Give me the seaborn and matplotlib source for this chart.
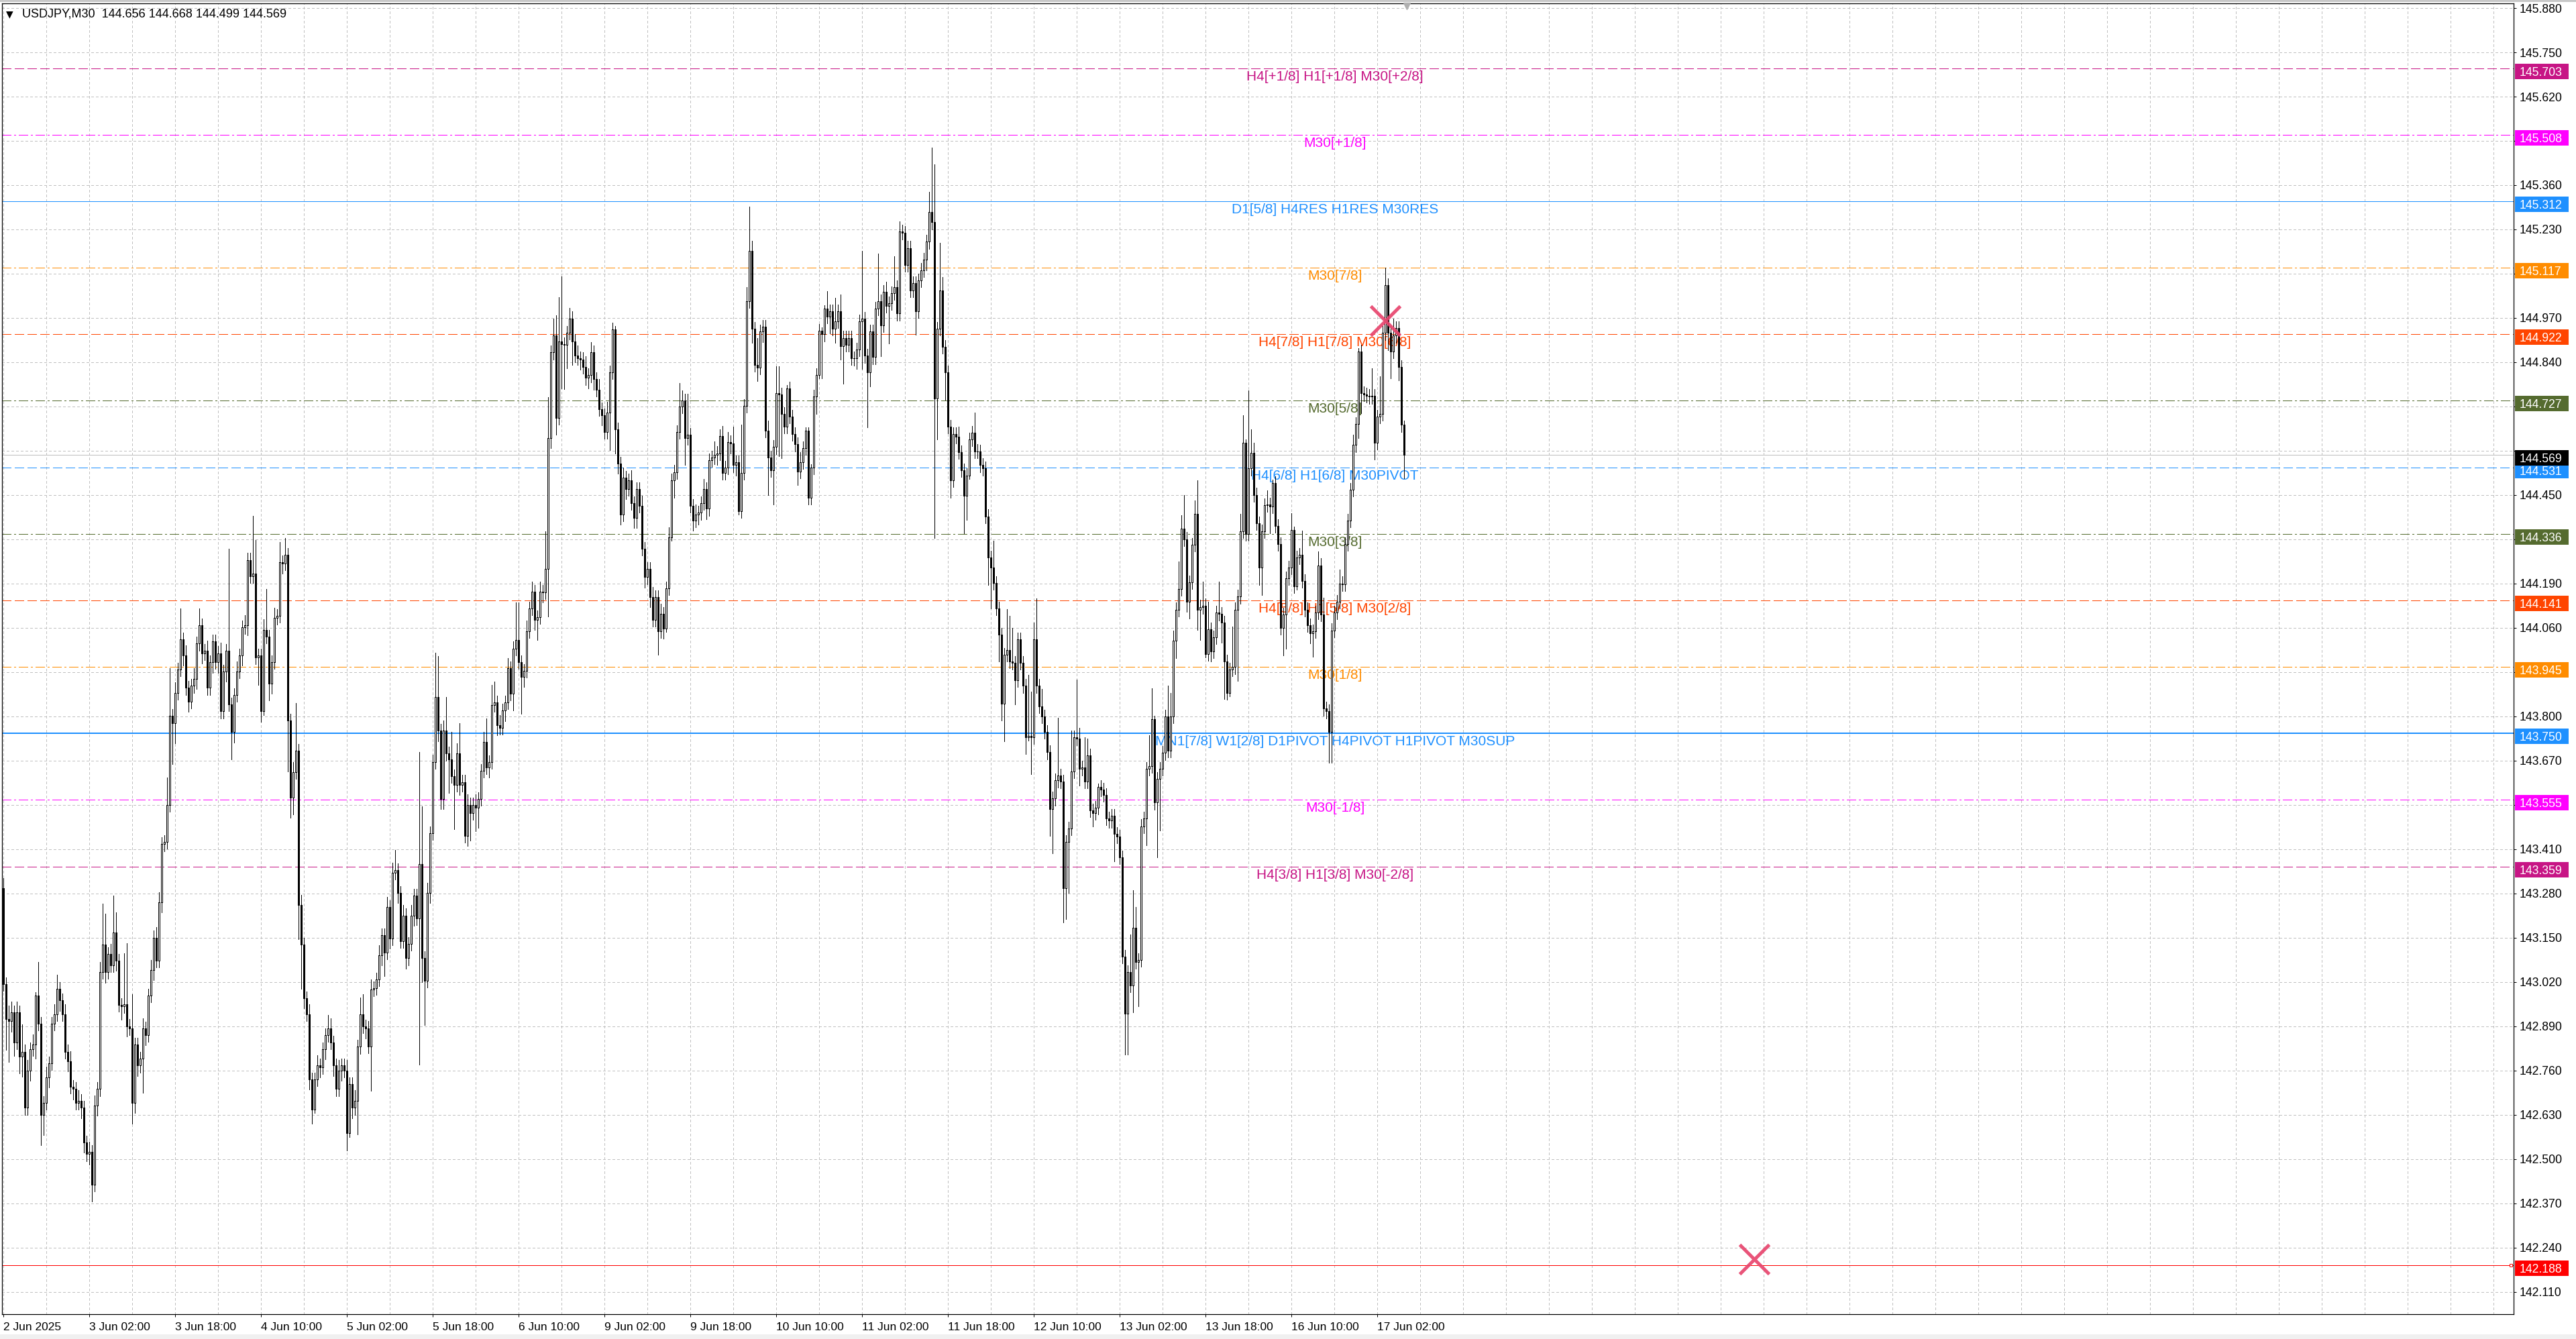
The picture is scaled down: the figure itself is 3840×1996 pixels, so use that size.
import numpy as np
import matplotlib
matplotlib.use("Agg")
import matplotlib.pyplot as plt
import seaborn as sns
from matplotlib.patches import Rectangle
from matplotlib.transforms import blended_transform_factory

# ---------------- data ----------------
title_text = "USDJPY,M30  144.656 144.668 144.499 144.569"
first_open = 143.295

close = [
    143.014, 142.912, 142.905, 142.932, 142.843, 142.932, 142.802, 142.816, 142.651, 142.761,
    142.823, 142.836, 142.980, 142.898, 142.631, 142.665, 142.741, 142.782, 142.898, 142.925,
    143.001, 142.966, 142.925, 142.816, 142.788, 142.713, 142.706, 142.665, 142.672, 142.651,
    142.549, 142.515, 142.521, 142.426, 142.658, 142.706, 143.049, 143.131, 143.049, 143.103,
    143.069, 143.165, 143.083, 142.953, 142.950, 142.955, 142.891, 142.885, 142.665, 142.836,
    142.775, 142.795, 142.884, 142.864, 142.980, 143.055, 143.151, 143.083, 143.254, 143.425,
    143.432, 143.541, 143.802, 143.781, 143.870, 143.938, 144.027, 143.979, 143.884, 143.843,
    143.890, 143.911, 144.014, 144.068, 143.986, 143.993, 143.884, 143.959, 144.021, 143.959,
    143.986, 143.815, 143.932, 143.993, 143.836, 143.754, 143.863, 143.932, 143.979, 144.062,
    144.068, 144.260, 144.212, 144.219, 143.973, 143.979, 143.815, 144.055, 144.034, 143.897,
    143.959, 144.089, 144.096, 144.253, 144.250, 144.274, 143.788, 143.562, 143.637, 143.699,
    143.247, 143.131, 142.973, 142.925, 142.734, 142.645, 142.734, 142.775, 142.770, 142.823,
    142.864, 142.884, 142.843, 142.775, 142.706, 142.761, 142.775, 142.761, 142.576, 142.720,
    142.651, 142.672, 142.830, 142.925, 142.890, 142.885, 142.831, 142.998, 143.003, 143.028,
    143.099, 143.157, 143.107, 143.240, 143.149, 143.341, 143.349, 143.282, 143.140, 143.216,
    143.090, 143.132, 143.216, 143.274, 143.207, 143.366, 143.090, 143.024, 143.282, 143.458,
    143.667, 143.858, 143.758, 143.558, 143.758, 143.691, 143.675, 143.625, 143.600, 143.691,
    143.600, 143.608, 143.449, 143.541, 143.516, 143.541, 143.533, 143.558, 143.641, 143.725,
    143.650, 143.666, 143.833, 143.842, 143.775, 143.767, 143.817, 143.842, 143.942, 143.867,
    144.000, 144.025, 143.959, 143.917, 143.934, 144.051, 144.117, 144.167, 144.084, 144.092,
    144.167, 144.164, 144.234, 144.618, 144.869, 144.919, 144.677, 144.902, 144.894, 144.892,
    144.927, 144.969, 144.902, 144.860, 144.852, 144.849, 144.827, 144.794, 144.802, 144.869,
    144.790, 144.760, 144.702, 144.685, 144.635, 144.693, 144.810, 144.936, 144.643, 144.543,
    144.393, 144.501, 144.468, 144.493, 144.426, 144.384, 144.468, 144.418, 144.293, 144.209,
    144.234, 144.151, 144.084, 144.151, 144.051, 144.101, 144.059, 144.176, 144.326, 144.493,
    144.518, 144.635, 144.710, 144.727, 144.618, 144.627, 144.418, 144.376, 144.393, 144.398,
    144.426, 144.468, 144.410, 144.552, 144.561, 144.568, 144.573, 144.624, 144.516, 144.531,
    144.606, 144.602, 144.538, 144.546, 144.403, 144.516, 144.712, 145.020, 145.167, 144.938,
    144.832, 144.825, 144.930, 144.945, 144.639, 144.561, 144.523, 144.591, 144.749, 144.745,
    144.689, 144.651, 144.764, 144.681, 144.629, 144.599, 144.519, 144.546, 144.588, 144.639,
    144.443, 144.531, 144.739, 144.802, 144.933, 144.922, 144.998, 144.975, 144.990, 144.938,
    144.960, 144.990, 144.888, 144.912, 144.892, 144.912, 144.852, 144.851, 144.877, 144.960,
    144.968, 144.859, 144.810, 144.930, 144.855, 144.998, 145.020, 144.948, 145.047, 145.005,
    145.013, 145.043, 145.061, 144.983, 145.224, 145.220, 145.126, 145.176, 145.051, 145.073,
    144.990, 145.081, 145.111, 145.141, 145.194, 145.281, 145.251, 144.734, 144.938, 145.051,
    144.885, 144.810, 144.651, 144.493, 144.629, 144.621, 144.576, 144.523, 144.448, 144.508,
    144.614, 144.633, 144.579, 144.578, 144.538, 144.528, 144.388, 144.267, 144.237, 144.192,
    144.117, 144.041, 143.838, 143.981, 143.996, 143.961, 143.958, 143.906, 144.026, 143.958,
    143.890, 143.740, 143.743, 143.740, 144.026, 143.890, 143.830, 143.800, 143.755, 143.695,
    143.529, 143.559, 143.612, 143.627, 143.609, 143.295, 143.432, 143.471, 143.639, 143.739,
    143.736, 143.647, 143.650, 143.609, 143.685, 143.524, 143.517, 143.532, 143.593, 143.586,
    143.570, 143.501, 143.494, 143.509, 143.455, 143.448, 143.387, 143.095, 142.927, 143.049,
    143.011, 143.180, 143.080, 143.085, 143.478, 143.501, 143.647, 143.655, 143.792, 143.547,
    143.616, 143.647, 143.693, 143.800, 143.700, 143.800, 144.022, 144.114, 144.175, 144.351,
    144.321, 144.137, 144.194, 144.305, 144.394, 144.114, 144.122, 144.126, 143.984, 144.056,
    143.992, 144.033, 144.106, 144.102, 144.076, 143.961, 143.869, 143.938, 143.945, 144.114,
    144.152, 144.344, 144.604, 144.336, 144.528, 144.574, 144.451, 144.367, 144.237, 144.344,
    144.420, 144.423, 144.417, 144.485, 144.359, 144.306, 144.060, 144.099, 144.206, 144.237,
    144.347, 144.183, 144.267, 144.275, 144.198, 144.114, 144.068, 144.045, 144.050, 144.106,
    144.244, 144.099, 143.823, 143.815, 143.754, 144.053, 144.106, 144.137, 144.191, 144.188,
    144.306, 144.375, 144.466, 144.597, 144.658, 144.872, 144.750, 144.745, 144.742, 144.739,
    144.742, 144.604, 144.681, 144.688, 144.926, 145.067, 144.926, 144.872, 144.918, 144.941,
    144.826, 144.656, 144.569,
]

wick_up = [
    0.03, 0.02, 0.04, 0.03, 0.02, 0.03, 0.02, 0.08, 0.02, 0.03,
    0.02, 0.03, 0.01, 0.10, 0.02, 0.02, 0.03, 0.02, 0.02, 0.03,
    0.04, 0.02, 0.02, 0.03, 0.02, 0.03, 0.02, 0.02, 0.03, 0.02,
    0.02, 0.02, 0.03, 0.02, 0.03, 0.02, 0.03, 0.12, 0.09, 0.02,
    0.03, 0.11, 0.06, 0.02, 0.02, 0.15, 0.18, 0.02, 0.10, 0.02,
    0.02, 0.02, 0.03, 0.02, 0.02, 0.03, 0.02, 0.03, 0.03, 0.02,
    0.02, 0.08, 0.14, 0.02, 0.03, 0.02, 0.09, 0.02, 0.03, 0.02,
    0.02, 0.03, 0.02, 0.05, 0.02, 0.02, 0.03, 0.02, 0.02, 0.02,
    0.02, 0.03, 0.02, 0.02, 0.30, 0.02, 0.02, 0.03, 0.02, 0.02,
    0.03, 0.02, 0.02, 0.17, 0.10, 0.02, 0.02, 0.03, 0.12, 0.02,
    0.02, 0.03, 0.02, 0.06, 0.02, 0.05, 0.02, 0.02, 0.03, 0.14,
    0.02, 0.03, 0.02, 0.02, 0.03, 0.02, 0.02, 0.03, 0.02, 0.02,
    0.02, 0.04, 0.03, 0.02, 0.02, 0.03, 0.02, 0.02, 0.03, 0.02,
    0.02, 0.03, 0.02, 0.05, 0.06, 0.02, 0.02, 0.03, 0.02, 0.02,
    0.03, 0.02, 0.02, 0.03, 0.02, 0.03, 0.06, 0.02, 0.02, 0.03,
    0.02, 0.02, 0.03, 0.02, 0.02, 0.33, 0.17, 0.02, 0.03, 0.02,
    0.02, 0.13, 0.12, 0.02, 0.03, 0.10, 0.02, 0.08, 0.02, 0.03,
    0.09, 0.02, 0.02, 0.03, 0.02, 0.02, 0.03, 0.02, 0.02, 0.03,
    0.07, 0.02, 0.06, 0.06, 0.02, 0.03, 0.02, 0.02, 0.03, 0.02,
    0.02, 0.11, 0.11, 0.02, 0.02, 0.03, 0.02, 0.03, 0.02, 0.02,
    0.03, 0.02, 0.11, 0.12, 0.02, 0.05, 0.06, 0.13, 0.19, 0.02,
    0.02, 0.03, 0.02, 0.02, 0.03, 0.02, 0.02, 0.03, 0.02, 0.03,
    0.02, 0.02, 0.03, 0.02, 0.02, 0.03, 0.02, 0.02, 0.01, 0.02,
    0.02, 0.03, 0.02, 0.02, 0.03, 0.02, 0.02, 0.02, 0.03, 0.02,
    0.02, 0.02, 0.03, 0.02, 0.02, 0.03, 0.02, 0.02, 0.03, 0.02,
    0.02, 0.02, 0.07, 0.03, 0.02, 0.12, 0.02, 0.02, 0.03, 0.02,
    0.02, 0.03, 0.02, 0.02, 0.02, 0.04, 0.02, 0.02, 0.03, 0.02,
    0.03, 0.02, 0.05, 0.02, 0.02, 0.14, 0.02, 0.04, 0.13, 0.03,
    0.02, 0.08, 0.02, 0.02, 0.02, 0.03, 0.02, 0.02, 0.08, 0.08,
    0.02, 0.02, 0.01, 0.02, 0.02, 0.02, 0.02, 0.03, 0.02, 0.01,
    0.01, 0.01, 0.02, 0.02, 0.02, 0.01, 0.01, 0.05, 0.02, 0.02,
    0.07, 0.02, 0.05, 0.02, 0.02, 0.02, 0.02, 0.02, 0.02, 0.02,
    0.20, 0.02, 0.02, 0.02, 0.02, 0.02, 0.14, 0.02, 0.02, 0.03,
    0.02, 0.02, 0.09, 0.02, 0.03, 0.02, 0.02, 0.02, 0.02, 0.02,
    0.02, 0.02, 0.02, 0.02, 0.02, 0.06, 0.19, 0.17, 0.02, 0.14,
    0.04, 0.02, 0.02, 0.02, 0.02, 0.02, 0.03, 0.02, 0.02, 0.02,
    0.02, 0.02, 0.06, 0.02, 0.02, 0.02, 0.02, 0.02, 0.02, 0.08,
    0.02, 0.02, 0.02, 0.02, 0.12, 0.10, 0.10, 0.02, 0.02, 0.02,
    0.02, 0.02, 0.18, 0.13, 0.05, 0.12, 0.02, 0.05, 0.02, 0.02,
    0.02, 0.02, 0.02, 0.17, 0.02, 0.02, 0.02, 0.02, 0.12, 0.02,
    0.17, 0.03, 0.02, 0.09, 0.05, 0.02, 0.02, 0.02, 0.01, 0.02,
    0.02, 0.02, 0.02, 0.02, 0.02, 0.02, 0.02, 0.02, 0.02, 0.02,
    0.11, 0.11, 0.06, 0.02, 0.02, 0.02, 0.02, 0.09, 0.09, 0.01,
    0.02, 0.02, 0.02, 0.02, 0.09, 0.07, 0.03, 0.02, 0.08, 0.04,
    0.10, 0.02, 0.02, 0.02, 0.04, 0.10, 0.02, 0.07, 0.02, 0.08,
    0.02, 0.02, 0.02, 0.09, 0.02, 0.02, 0.02, 0.02, 0.12, 0.02,
    0.02, 0.05, 0.08, 0.01, 0.23, 0.07, 0.03, 0.02, 0.02, 0.02,
    0.02, 0.04, 0.02, 0.01, 0.02, 0.02, 0.02, 0.02, 0.02, 0.02,
    0.05, 0.01, 0.02, 0.02, 0.07, 0.02, 0.02, 0.02, 0.02, 0.02,
    0.04, 0.02, 0.05, 0.02, 0.02, 0.02, 0.02, 0.02, 0.04, 0.02,
    0.02, 0.02, 0.02, 0.03, 0.02, 0.01, 0.02, 0.02, 0.02, 0.02,
    0.08, 0.02, 0.02, 0.11, 0.02, 0.05, 0.02, 0.02, 0.05, 0.02,
    0.02, 0.02, 0.012,
]

wick_dn = [
    0.02, 0.09, 0.12, 0.03, 0.04, 0.02, 0.05, 0.06, 0.02, 0.02,
    0.03, 0.02, 0.04, 0.02, 0.09, 0.06, 0.02, 0.03, 0.02, 0.02,
    0.02, 0.03, 0.02, 0.02, 0.03, 0.02, 0.03, 0.02, 0.02, 0.03,
    0.03, 0.02, 0.03, 0.05, 0.02, 0.03, 0.02, 0.02, 0.03, 0.02,
    0.02, 0.02, 0.03, 0.02, 0.04, 0.02, 0.03, 0.02, 0.06, 0.03,
    0.03, 0.02, 0.10, 0.03, 0.02, 0.02, 0.03, 0.02, 0.02, 0.03,
    0.02, 0.02, 0.02, 0.12, 0.06, 0.02, 0.02, 0.03, 0.02, 0.03,
    0.02, 0.02, 0.03, 0.02, 0.03, 0.02, 0.02, 0.02, 0.03, 0.02,
    0.03, 0.02, 0.02, 0.03, 0.02, 0.08, 0.03, 0.02, 0.02, 0.03,
    0.02, 0.03, 0.02, 0.02, 0.02, 0.08, 0.03, 0.01, 0.02, 0.05,
    0.03, 0.02, 0.02, 0.02, 0.03, 0.02, 0.15, 0.06, 0.05, 0.02,
    0.10, 0.13, 0.03, 0.02, 0.03, 0.04, 0.01, 0.02, 0.03, 0.02,
    0.03, 0.02, 0.02, 0.03, 0.02, 0.02, 0.03, 0.02, 0.05, 0.01,
    0.03, 0.02, 0.10, 0.02, 0.02, 0.03, 0.02, 0.13, 0.02, 0.02,
    0.02, 0.03, 0.07, 0.02, 0.03, 0.02, 0.02, 0.03, 0.02, 0.02,
    0.03, 0.02, 0.02, 0.03, 0.02, 0.43, 0.07, 0.13, 0.02, 0.03,
    0.02, 0.02, 0.03, 0.03, 0.03, 0.02, 0.10, 0.02, 0.13, 0.02,
    0.03, 0.02, 0.02, 0.03, 0.08, 0.02, 0.07, 0.06, 0.02, 0.02,
    0.02, 0.03, 0.02, 0.02, 0.03, 0.02, 0.02, 0.03, 0.02, 0.02,
    0.05, 0.02, 0.02, 0.11, 0.03, 0.02, 0.02, 0.02, 0.03, 0.06,
    0.02, 0.03, 0.02, 0.14, 0.03, 0.02, 0.05, 0.02, 0.13, 0.13,
    0.07, 0.02, 0.07, 0.02, 0.02, 0.03, 0.02, 0.02, 0.03, 0.02,
    0.03, 0.02, 0.02, 0.03, 0.02, 0.02, 0.11, 0.02, 0.07, 0.03,
    0.03, 0.02, 0.03, 0.02, 0.02, 0.03, 0.03, 0.02, 0.02, 0.03,
    0.02, 0.03, 0.02, 0.02, 0.07, 0.02, 0.03, 0.01, 0.02, 0.01,
    0.05, 0.02, 0.02, 0.02, 0.08, 0.02, 0.02, 0.03, 0.02, 0.03,
    0.02, 0.02, 0.03, 0.02, 0.02, 0.02, 0.03, 0.02, 0.02, 0.02,
    0.02, 0.03, 0.02, 0.03, 0.01, 0.02, 0.02, 0.02, 0.02, 0.04,
    0.02, 0.04, 0.02, 0.03, 0.02, 0.11, 0.02, 0.10, 0.02, 0.18,
    0.13, 0.02, 0.02, 0.02, 0.02, 0.02, 0.04, 0.02, 0.02, 0.02,
    0.02, 0.02, 0.02, 0.05, 0.01, 0.13, 0.02, 0.02, 0.05, 0.02,
    0.04, 0.02, 0.04, 0.11, 0.02, 0.02, 0.02, 0.02, 0.03, 0.02,
    0.14, 0.02, 0.16, 0.04, 0.02, 0.02, 0.02, 0.09, 0.02, 0.02,
    0.11, 0.02, 0.02, 0.02, 0.02, 0.02, 0.02, 0.02, 0.02, 0.02,
    0.07, 0.02, 0.02, 0.02, 0.03, 0.02, 0.02, 0.41, 0.12, 0.02,
    0.02, 0.08, 0.02, 0.05, 0.02, 0.02, 0.02, 0.02, 0.11, 0.07,
    0.01, 0.02, 0.02, 0.02, 0.02, 0.02, 0.02, 0.08, 0.12, 0.02,
    0.02, 0.08, 0.05, 0.11, 0.02, 0.02, 0.02, 0.07, 0.02, 0.02,
    0.02, 0.05, 0.01, 0.11, 0.02, 0.02, 0.02, 0.02, 0.02, 0.02,
    0.08, 0.13, 0.02, 0.02, 0.02, 0.10, 0.09, 0.15, 0.02, 0.02,
    0.02, 0.05, 0.02, 0.02, 0.02, 0.02, 0.04, 0.02, 0.02, 0.02,
    0.02, 0.02, 0.02, 0.02, 0.08, 0.02, 0.02, 0.02, 0.12, 0.12,
    0.02, 0.08, 0.02, 0.13, 0.02, 0.02, 0.08, 0.02, 0.02, 0.02,
    0.16, 0.15, 0.02, 0.02, 0.02, 0.02, 0.02, 0.05, 0.02, 0.02,
    0.02, 0.03, 0.05, 0.02, 0.02, 0.06, 0.09, 0.02, 0.01, 0.02,
    0.03, 0.02, 0.02, 0.02, 0.06, 0.11, 0.02, 0.01, 0.02, 0.02,
    0.21, 0.02, 0.02, 0.02, 0.02, 0.02, 0.02, 0.02, 0.05, 0.08,
    0.02, 0.02, 0.08, 0.02, 0.02, 0.02, 0.02, 0.08, 0.10, 0.02,
    0.02, 0.02, 0.01, 0.02, 0.02, 0.02, 0.02, 0.03, 0.07, 0.02,
    0.02, 0.02, 0.02, 0.02, 0.09, 0.09, 0.02, 0.02, 0.02, 0.02,
    0.02, 0.02, 0.02, 0.02, 0.02, 0.04, 0.06, 0.02, 0.02, 0.02,
    0.02, 0.05, 0.02, 0.02, 0.02, 0.02, 0.05, 0.08, 0.02, 0.02,
    0.04, 0.02, 0.07,
]

level_prices = [145.703, 145.508, 145.312, 145.117, 144.922, 144.727, 144.531,
                144.336, 144.141, 143.945, 143.750, 143.555, 143.359]
level_names = [
    "H4[+1/8] H1[+1/8] M30[+2/8]", "M30[+1/8]", "D1[5/8] H4RES H1RES M30RES",
    "M30[7/8]", "H4[7/8] H1[7/8] M30[6/8]", "M30[5/8]", "H4[6/8] H1[6/8] M30PIVOT",
    "M30[3/8]", "H4[5/8] H1[5/8] M30[2/8]", "M30[1/8]",
    "MN1[7/8] W1[2/8] D1PIVOT H4PIVOT H1PIVOT M30SUP", "M30[-1/8]",
    "H4[3/8] H1[3/8] M30[-2/8]",
]
level_colors = ["#C71585", "#FF00FF", "#1E90FF", "#FF8C00", "#FF4500", "#556B2F",
                "#1E90FF", "#556B2F", "#FF4500", "#FF8C00", "#1E90FF", "#FF00FF", "#C71585"]
level_styles = ["dash", "dashdot", "solid", "dashdot", "dash", "dashdot", "dash",
                "dashdot", "dash", "dashdot", "solid", "dashdot", "dash"]
level_width_px = [1, 1, 1, 1, 1, 1, 1, 1, 1, 1, 2, 1, 1]

current_price = 144.569
red_level = 142.188

mark_bars = [515.0, 652.6]
mark_prices = [144.963, 142.207]
shift_marker_bar = 523

ytick_values = [142.110, 142.240, 142.370, 142.500, 142.630, 142.760, 142.890, 143.020,
                143.150, 143.280, 143.410, 143.540, 143.670, 143.800, 143.930, 144.060,
                144.190, 144.320, 144.450, 144.580, 144.710, 144.840, 144.970, 145.100,
                145.230, 145.360, 145.490, 145.620, 145.750, 145.880]
ytick_hidden = [143.540, 143.930, 144.320, 144.580, 144.710, 145.100, 145.490]

xtick_bars = [0, 32, 64, 96, 128, 160, 192, 224, 256, 288, 320, 352, 384, 416, 448, 480, 512]
xtick_labels = ["2 Jun 2025", "3 Jun 02:00", "3 Jun 18:00", "4 Jun 10:00", "5 Jun 02:00",
                "5 Jun 18:00", "6 Jun 10:00", "9 Jun 02:00", "9 Jun 18:00", "10 Jun 10:00",
                "11 Jun 02:00", "11 Jun 18:00", "12 Jun 10:00", "13 Jun 02:00",
                "13 Jun 18:00", "16 Jun 10:00", "17 Jun 02:00"]

# ---------------- style ----------------
sns.set_theme(style="white")
plt.rcParams["font.family"] = ["Liberation Sans", "DejaVu Sans"]
plt.rcParams["lines.scale_dashes"] = False
PX = 0.72  # one pixel in points at dpi 100

W, H = 3840, 1996
fig = plt.figure(figsize=(W / 100, H / 100), dpi=100)
fig.patch.set_facecolor("white")
ax_left, ax_right, ax_top, ax_bot = 3, 3747, 5, 1959
ax = fig.add_axes([ax_left / W, (H - ax_bot) / H, (ax_right - ax_left) / W, (ax_bot - ax_top) / H])
ax.set_facecolor("white")

XMIN, XMAX = -0.5, 935.5
YMIN, YMAX = 142.045, 145.894
ax.set_xlim(XMIN, XMAX)
ax.set_ylim(YMIN, YMAX)
ppu = (ax_bot - ax_top) / (YMAX - YMIN)  # pixels per price unit

# grid
grid_kw = dict(color="#C0C0C0", linewidth=PX, linestyle=(0, (2.2, 2.2)), zorder=1,
               antialiased=False)
for yv in ytick_values:
    ax.axhline(yv, **grid_kw)
for xv in np.arange(0, 936, 16):
    ax.axvline(xv, **grid_kw)

# level lines
dash_map = {"solid": "-", "dash": (0, (10, 4.3)), "dashdot": (0, (9.4, 2.9, 1.5, 2.9))}
for p, col, st, wpx in zip(level_prices, level_colors, level_styles, level_width_px):
    ax.axhline(p, color=col, linewidth=wpx * PX, linestyle=dash_map[st], zorder=2,
               antialiased=False)
ax.axhline(current_price, color="#C0C0C0", linewidth=PX, zorder=2, antialiased=False)
ax.axhline(red_level, color="#FF0000", linewidth=PX, zorder=2, antialiased=False)
ax.plot([934.4], [red_level], marker="s", markersize=3.2, markerfacecolor="white",
        markeredgecolor="#FF0000", markeredgewidth=PX, zorder=3, clip_on=False)

# level labels
for p, name, col in zip(level_prices, level_names, level_colors):
    ax.text(496.25, p - 3 / ppu, name, color=col, ha="center", va="top",
            fontsize=15, zorder=3)

# candles
n = min(len(close), len(wick_up), len(wick_dn))
c = np.array(close[:n])
o = np.concatenate([[first_open], c[:-1]])
hi = np.maximum(o, c) + np.array(wick_up[:n])
lo = np.minimum(o, c) - np.array(wick_dn[:n])
x = np.arange(n)
ax.vlines(x, lo, hi, color="black", linewidth=PX, zorder=5, antialiased=False)
bull = c >= o
body_h = np.abs(c - o)
body_b = np.minimum(o, c)
ax.bar(x[bull], body_h[bull], bottom=body_b[bull], width=0.5, facecolor="white",
       edgecolor="black", linewidth=PX, zorder=6, antialiased=False)
ax.bar(x[~bull], body_h[~bull], bottom=body_b[~bull], width=0.5, facecolor="black",
       edgecolor="black", linewidth=PX, zorder=6, antialiased=False)

# X markers
ax.plot(mark_bars, mark_prices, linestyle="none", marker="x", markersize=31,
        markeredgewidth=3.6, color="#E8456E", alpha=0.92, zorder=8)

# chart-shift marker at the top
ax.plot([shift_marker_bar], [YMAX - 4 / ppu], marker="v", markersize=7, color="#B0B0B0",
        linestyle="none", zorder=9, clip_on=False)

# axes frame and ticks
for s in ax.spines.values():
    s.set_color("black")
    s.set_linewidth(0.9)
ax.yaxis.tick_right()
ax.set_yticks(ytick_values)
ax.set_yticklabels([])
ax.tick_params(axis="y", which="both", right=True, left=False, direction="out",
               length=4 * PX, width=PX, color="black")
ax.set_xticks(xtick_bars)
ax.set_xticklabels(xtick_labels, ha="left", fontsize=12.5, color="black")
ax.tick_params(axis="x", which="both", bottom=True, top=False, direction="out",
               length=4 * PX, width=PX, color="black", pad=5.5)
ax.grid(False)

# right-hand price labels
tr = blended_transform_factory(ax.transAxes, ax.transData)
axw = ax_right - ax_left
def fx(px):
    return (px - ax_left) / axw

cap_half = 6.4 / ppu
for yv in ytick_values:
    if any(abs(yv - h) < 1e-6 for h in ytick_hidden):
        continue
    ax.text(fx(3756), yv - cap_half, f"{yv:.3f}", transform=tr, ha="left",
            va="baseline", fontsize=12.7, color="black", clip_on=False)

box_prices = level_prices + [current_price, red_level]
box_colors = level_colors + ["#000000", "#FF0000"]
box_shift = 4.5 / ppu  # boxes sit slightly below their level
bh = 23 / ppu
for p, col in zip(box_prices, box_colors):
    yc = p - box_shift
    ax.add_patch(Rectangle((fx(3749), yc - bh / 2), 80 / axw, bh, transform=tr,
                           facecolor=col, edgecolor="none", clip_on=False, zorder=10))
    ax.text(fx(3756), yc - cap_half, f"{p:.3f}", transform=tr, ha="left",
            va="baseline", fontsize=12.7, color="white", clip_on=False, zorder=11)

# title
fig.text(9 / W, 1 - 25 / H, "\u25BC", fontsize=10, family=["DejaVu Sans"],
         color="black", va="baseline")
fig.text(33 / W, 1 - 26 / H, title_text, fontsize=13, color="black", va="baseline")

# window borders
fig.patches.append(Rectangle((0, 0), 1, 7 / H, transform=fig.transFigure,
                             facecolor="#F0F0F0", edgecolor="none", zorder=0))
fig.patches.append(Rectangle((0, 1 - 3 / H), 1, 3 / H, transform=fig.transFigure,
                             facecolor="#C8C8C8", edgecolor="none", zorder=0))

fig.savefig("out.png", dpi=100, facecolor="white")
